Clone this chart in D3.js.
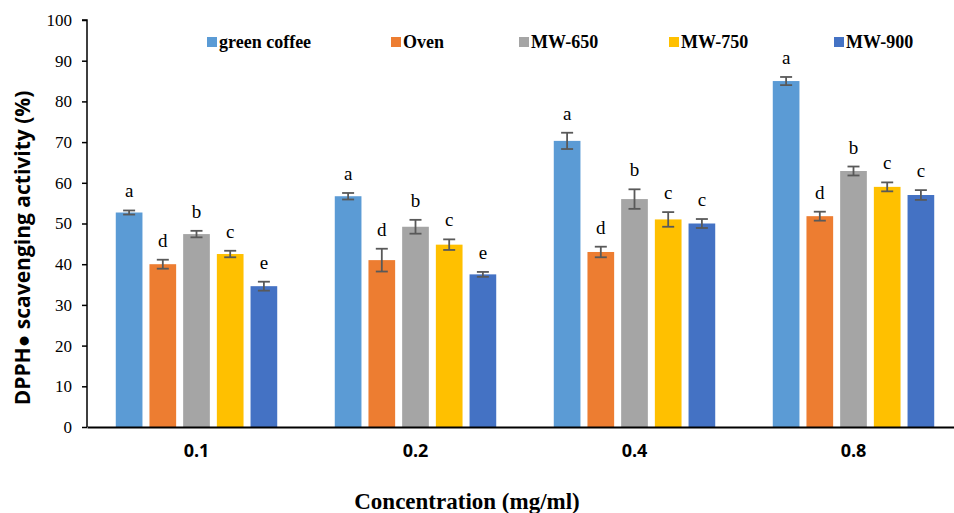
<!DOCTYPE html>
<meta charset="utf-8">
<head>
<style>
  body { margin: 0; background: #fff; }
  .yaxis text { font-family: "Liberation Serif", serif; font-size: 17px; fill: #000; }
  .xaxis text { font-family: "Open Sans", "Liberation Sans", sans-serif; font-size: 18px; font-weight: bold; fill: #000; }
  .legend text { font-family: "Liberation Serif", serif; font-size: 18px; font-weight: bold; }
  .sig { font-family: "Liberation Serif", serif; font-size: 19px; }
</style>
</head>
<body>
<div id="graph"></div>
<script src="https://d3js.org/d3.v7.min.js"></script>
<script>

var categories = ["0.1", "0.2", "0.4", "0.8"];
var series = ["green coffee", "Oven", "MW-650", "MW-750", "MW-900"];
var colors = ["#5B9BD5", "#ED7D31", "#A5A5A5", "#FFC000", "#4472C4"];

// values per series, one entry per concentration
var greenCoffee = [52.7, 56.7, 70.3, 85.0];
var oven        = [40.0, 41.0, 43.0, 51.8];
var mw650       = [47.4, 49.2, 56.0, 62.9];
var mw750       = [42.5, 44.8, 51.0, 59.0];
var mw900       = [34.6, 37.5, 50.0, 57.0];

var greenCoffeeErr = [0.5, 0.8, 2.0, 1.0];
var ovenErr        = [1.1, 2.8, 1.3, 1.1];
var mw650Err       = [0.8, 1.7, 2.4, 1.1];
var mw750Err       = [0.8, 1.3, 1.8, 1.1];
var mw900Err       = [1.1, 0.6, 1.1, 1.2];

var greenCoffeeSig = ["a", "a", "a", "a"];
var ovenSig        = ["d", "d", "d", "d"];
var mw650Sig       = ["b", "b", "b", "b"];
var mw750Sig       = ["c", "c", "c", "c"];
var mw900Sig       = ["e", "e", "c", "c"];

var yTicks = [0, 10, 20, 30, 40, 50, 60, 70, 80, 90, 100];

var values = [greenCoffee, oven, mw650, mw750, mw900];
var errs = [greenCoffeeErr, ovenErr, mw650Err, mw750Err, mw900Err];
var sigs = [greenCoffeeSig, ovenSig, mw650Sig, mw750Sig, mw900Sig];

var data = [];
categories.forEach(function(c, ci){
  series.forEach(function(s, si){
    data.push({cat: c, series: s, si: si, v: values[si][ci], e: errs[si][ci], sig: sigs[si][ci]});
  });
});

var W = 954, H = 513;
var plotLeft = 87, plotRight = 963, plotTop = 20, plotBottom = 427;

var svg = d3.select("#graph").append("svg")
  .attr("width", W).attr("height", H)
  .style("display", "block");

var x0 = d3.scaleBand().domain(categories).range([plotLeft, plotRight]).padding(0);
var x1 = d3.scaleBand().domain(series).range([0, x0.bandwidth()])
  .paddingInner(0.208).paddingOuter(0.854);
var y = d3.scaleLinear().domain([0, 100]).range([plotBottom, plotTop]);

// bars
var g = svg.append("g");
g.selectAll("rect").data(data).enter().append("rect")
  .attr("x", function(d){ return x0(d.cat) + x1(d.series); })
  .attr("y", function(d){ return y(d.v); })
  .attr("width", x1.bandwidth())
  .attr("height", function(d){ return y(0) - y(d.v); })
  .attr("fill", function(d){ return colors[d.si]; });

// error bars
var eb = g.selectAll(".err").data(data).enter().append("g").attr("class", "err")
  .attr("stroke", "#595959").attr("stroke-width", 1.8);
function cx(d){ return x0(d.cat) + x1(d.series) + x1.bandwidth() / 2; }
eb.append("line")
  .attr("x1", cx).attr("x2", cx)
  .attr("y1", function(d){ return y(d.v + d.e); })
  .attr("y2", function(d){ return y(d.v - d.e); });
eb.append("line")
  .attr("x1", function(d){ return cx(d) - 6; }).attr("x2", function(d){ return cx(d) + 6; })
  .attr("y1", function(d){ return y(d.v + d.e); }).attr("y2", function(d){ return y(d.v + d.e); });
eb.append("line")
  .attr("x1", function(d){ return cx(d) - 6; }).attr("x2", function(d){ return cx(d) + 6; })
  .attr("y1", function(d){ return y(d.v - d.e); }).attr("y2", function(d){ return y(d.v - d.e); });

// significance letters
g.selectAll(".sig").data(data).enter().append("text")
  .attr("class", "sig")
  .attr("x", cx)
  .attr("y", function(d){ return y(d.v + d.e) - 13; })
  .attr("text-anchor", "middle")
  .text(function(d){ return d.sig; });

// axes
var yAxis = svg.append("g").attr("class", "yaxis")
  .attr("transform", "translate(" + plotLeft + ",0)")
  .call(d3.axisLeft(y).tickValues(yTicks).tickSize(5).tickPadding(10));
yAxis.selectAll("path, line").attr("stroke", "#000").attr("stroke-width", 1.5);
yAxis.select(".domain").attr("d", "M-5," + plotTop + "H0V" + plotBottom);

var xAxis = svg.append("g").attr("class", "xaxis")
  .attr("transform", "translate(0," + plotBottom + ")")
  .call(d3.axisBottom(x0).tickSize(0).tickPadding(17));
xAxis.select(".domain").attr("stroke", "#000").attr("stroke-width", 2);

// axis titles
svg.append("text")
  .attr("transform", "translate(30,248) rotate(-90)")
  .attr("text-anchor", "middle")
  .style("font-family", "'Open Sans', 'Liberation Sans', sans-serif")
  .style("font-size", "21px").style("font-weight", "bold")
  .text("DPPH\u25CF scavenging activity (%)");

svg.append("text")
  .attr("x", 467).attr("y", 509)
  .attr("text-anchor", "middle")
  .style("font-family", "'Liberation Serif', serif")
  .style("font-size", "23px").style("font-weight", "bold")
  .text("Concentration (mg/ml)");

// legend
var legendX = [207, 391, 519, 669, 834];
var lg = svg.append("g").attr("class", "legend").selectAll("g").data(series).enter().append("g")
  .attr("transform", function(d, i){ return "translate(" + legendX[i] + ",42)"; });
lg.append("rect").attr("x", 0).attr("y", -5).attr("width", 10).attr("height", 10)
  .attr("fill", function(d, i){ return colors[i]; });
lg.append("text").attr("x", 12).attr("y", 6).text(function(d){ return d; });

</script>
</body>
</html>
